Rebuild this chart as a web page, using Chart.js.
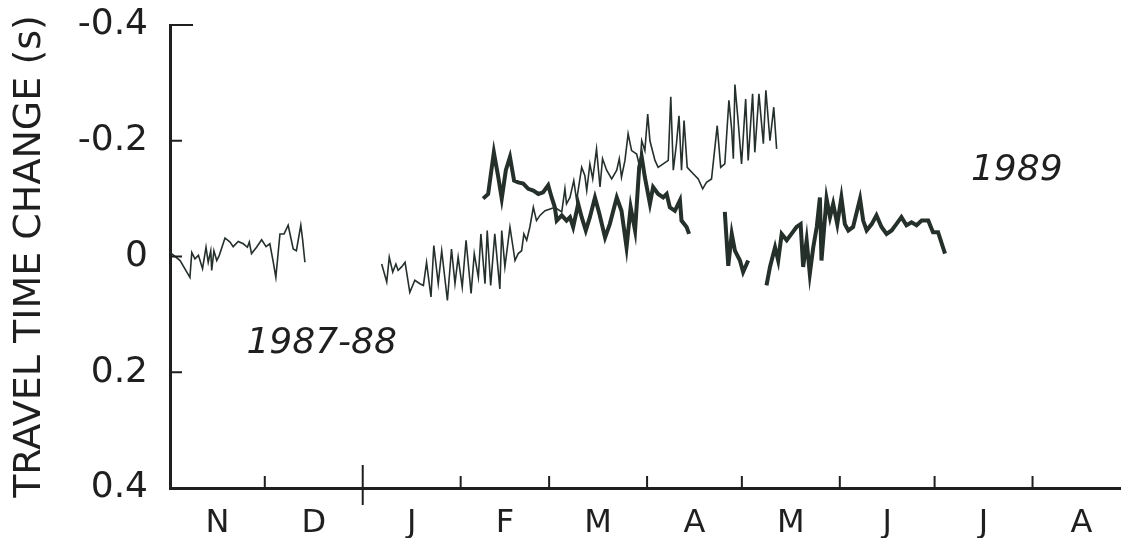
<!DOCTYPE html>
<html>
<head>
<meta charset="utf-8">
<title>Travel time change</title>
<script src="https://cdn.jsdelivr.net/npm/chart.js@4/dist/chart.umd.min.js"></script>
<style>
    html, body { margin: 0; padding: 0; background: #fff; }
    #wrap { width: 1121px; height: 538px; position: relative; }
</style>
</head>
<body>
<div id="wrap"><canvas id="ttChart"></canvas></div>
<script>
// x = days since 1 November, y = travel time change (s); null = gap in record
const days87 = [0, 3.2, 6.3, 6.9, 7.9, 9, 10.3, 11.4, 12.1, 12.9, 13.2, 13.9, 14.8, 15.6, 17.4, 19, 20,
    21.6, 23.2, 24.5, 25.1, 25.8, 27.4, 29, 30.4, 31.6, 32.7, 33.5, 34.8, 36.1, 37.4, 39, 40, 41.4, 42, 42.7,
    55,
    67, 68.6, 69.4, 70.5, 71.5, 72.2, 73.3, 74.4, 75.9, 77.5, 79.1, 80.2, 81.2, 82.6, 83.5, 84.9, 86, 87.8,
    89.1, 90.2, 91.2, 92.5, 93.7, 95.3, 96.3, 97.6, 98.4, 99.7, 100.4, 101.5, 102.8, 104.4, 105, 106, 107.6,
    109.2, 110.2, 111.3, 112, 112.9, 113.9, 115, 116, 117.1, 118.7, 120.3, 121.8, 124, 125, 125.5, 126.6,
    127.8, 128.7, 130.3, 131.3, 131.9, 132.9, 133.8, 135, 136.1, 136.9, 138.2, 139.8, 141.4, 142.2, 142.9,
    144, 145, 146.1, 147.7, 148.7, 149.3, 150.3, 151.2, 151.9, 153.5, 154.5, 156.1, 157.7, 158.5, 159.3,
    160.3, 161.1, 161.9, 162.7, 163.7, 165.6, 167.2, 168.6, 169.8, 171.4, 173.2, 174.3, 175.6, 176.9, 177.8,
    178.3, 178.8, 179.8, 180.9, 182.2, 183, 184.4, 185.1, 186.4, 187.8, 188.6, 189.9, 191.1, 192];
const tt87 = [-0.007, 0.007, 0.036, -0.007, 0.004, -0.002, 0.021, -0.016, 0.01, -0.01, 0.024, -0.01, 0.007,
    -0.002, -0.032, -0.025, -0.017, -0.026, -0.022, -0.016, -0.025, -0.005, -0.016, -0.029, -0.017, -0.022,
    0.01, 0.036, -0.039, -0.039, -0.054, -0.013, -0.01, -0.054, -0.028, 0.01,
    null,
    0.013, 0.044, 0.001, 0.027, 0.013, 0.024, 0.018, 0.01, 0.062, 0.041, 0.047, 0.05, 0.01, 0.07, -0.019,
    0.047, -0.01, 0.076, -0.013, 0.047, 0.001, 0.053, -0.028, 0.064, -0.005, 0.036, -0.039, 0.047, -0.045,
    0.05, -0.039, 0.056, -0.045, 0.018, -0.051, 0.007, -0.005, -0.01, -0.039, -0.028, -0.051, -0.085, -0.062,
    -0.071, -0.079, -0.082, -0.085, -0.077, -0.117, -0.091, -0.102, -0.131, -0.097, -0.154, -0.14, -0.114,
    -0.16, -0.134, -0.186, -0.12, -0.169, -0.149, -0.134, -0.149, -0.169, -0.137, -0.166, -0.212, -0.183,
    -0.177, -0.154, -0.2, -0.183, -0.246, -0.2, -0.166, -0.154, -0.16, -0.166, -0.276, -0.149, -0.195, -0.243,
    -0.149, -0.235, -0.154, -0.143, -0.134, -0.117, -0.128, -0.134, -0.226, -0.154, -0.16, -0.27, -0.218,
    -0.169, -0.297, -0.235, -0.16, -0.272, -0.166, -0.281, -0.18, -0.281, -0.195, -0.287, -0.2, -0.258, -0.186];

const days89 = [99.1, 100.7, 102.5, 103.9, 105, 106.3, 107.6, 108.9, 110.2, 111.8, 113.4, 115, 116.6, 118.1,
    119.7, 120.8, 121.8, 122.4, 124, 125.5, 126.6, 127.6, 129.2, 130.3, 131.6, 132.9, 134.5, 135.9, 137.7,
    139.2, 141.4, 142.9, 144.5, 145.8, 147.2, 148.5, 149.3, 150.3, 151.9, 152.9, 154.5, 156.1, 157.2, 158.2,
    159.8, 161.4, 161.9, 163.5, 164.3,
    170,
    175.6, 176.7, 177.8, 178.8, 180.4, 181.4, 183,
    186,
    188.8, 189.9, 191.5, 192.5, 193.6, 195.2, 196.7, 198.3, 199.6, 200.4, 201.5, 202.5, 203.6, 204.7, 205.7,
    206.2, 207.8, 208.9, 209.9, 211.2, 212.5, 213.6, 214.7, 216.2, 218.4, 219.4, 220.5, 222.1, 223.6, 225.2,
    226.8, 228.4, 229.9, 231.5, 233.1, 234.7, 236.3, 237.9, 240, 241.5, 243.1, 245.3];
const tt89 = [-0.1, -0.108, -0.18, -0.137, -0.1, -0.149, -0.172, -0.131, -0.128, -0.126, -0.117, -0.114,
    -0.108, -0.111, -0.123, -0.102, -0.085, -0.062, -0.071, -0.062, -0.068, -0.051, -0.091, -0.068, -0.045,
    -0.068, -0.102, -0.074, -0.033, -0.056, -0.102, -0.079, -0.016, -0.085, -0.045, -0.154, -0.172, -0.137,
    -0.091, -0.12, -0.108, -0.102, -0.108, -0.085, -0.079, -0.097, -0.062, -0.051, -0.039,
    null,
    -0.077, 0.016, -0.039, -0.01, 0.007, 0.027, 0.007,
    null,
    0.05, 0.018, -0.016, 0.007, -0.039, -0.028, -0.039, -0.051, -0.056, 0.018, -0.028, 0.03, -0.016, -0.051,
    -0.102, 0.007, -0.1, -0.068, -0.091, -0.056, -0.102, -0.056, -0.045, -0.051, -0.1, -0.062, -0.045, -0.056,
    -0.071, -0.051, -0.039, -0.045, -0.056, -0.068, -0.054, -0.059, -0.054, -0.062, -0.062, -0.042, -0.042,
    -0.005];

const monthLabels = ['N', 'D', 'J', 'F', 'M', 'A', 'M', 'J', 'J', 'A'];
const monthStarts = [0, 30, 61, 92, 120, 151, 181, 212, 242, 273, 304];
const yTicks = [-0.4, -0.2, 0, 0.2, 0.4];

const ink = '#1f1f1f';
const lineInk = '#25302b';
const face = '"DejaVu Sans", sans-serif';

const toPoints = (xs, ys) => xs.map((x, i) => ({ x: x, y: ys[i] }));
const labelDays = monthLabels.map((m, i) => (monthStarts[i] + monthStarts[i + 1]) / 2);

// short inward tick marks and the two year labels
const paperMarks = {
    id: 'paperMarks',
    afterDraw(chart) {
        const ctx = chart.ctx;
        const xs = chart.scales.x;
        const ys = chart.scales.y;
        const area = chart.chartArea;
        ctx.save();
        ctx.strokeStyle = ink;
        ctx.lineWidth = 2;
        ctx.beginPath();
        monthStarts.slice(1).forEach(d => {
            const px = xs.getPixelForValue(d);
            if (px > area.right) return;
            if (d === 61) {
                ctx.moveTo(px, area.bottom - 23);
                ctx.lineTo(px, area.bottom + 17);
            } else {
                ctx.moveTo(px, area.bottom);
                ctx.lineTo(px, area.bottom - 12);
            }
        });
        yTicks.slice(0, -1).forEach(v => {
            const py = ys.getPixelForValue(v);
            ctx.moveTo(area.left, py);
            ctx.lineTo(area.left + (v === -0.4 ? 23 : 12), py);
        });
        ctx.stroke();

        ctx.fillStyle = ink;
        ctx.textAlign = 'center';
        ctx.textBaseline = 'middle';
        ctx.font = 'italic 36px ' + face;
        ctx.fillText('1987-88', xs.getPixelForValue(48), ys.getPixelForValue(0.15));
        ctx.fillText('1989', xs.getPixelForValue(268), ys.getPixelForValue(-0.149));
        ctx.restore();
    }
};

const ctx = document.getElementById('ttChart').getContext('2d');
new Chart(ctx, {
    type: 'line',
    data: {
        datasets: [
            {
                label: '1987-88',
                data: toPoints(days87, tt87),
                borderColor: lineInk,
                borderWidth: 1.6,
                pointRadius: 0,
                tension: 0,
                spanGaps: false
            },
            {
                label: '1989',
                data: toPoints(days89, tt89),
                borderColor: lineInk,
                borderWidth: 4,
                pointRadius: 0,
                tension: 0,
                spanGaps: false
            }
        ]
    },
    options: {
        responsive: true,
        maintainAspectRatio: false,
        animation: false,
        layout: { padding: { top: 25, right: 0, bottom: 0, left: 0 } },
        plugins: {
            legend: { display: false },
            tooltip: { enabled: false }
        },
        scales: {
            x: {
                type: 'linear',
                min: 0,
                max: 301,
                afterBuildTicks: scale => {
                    scale.ticks = labelDays.map(v => ({ value: v }));
                },
                afterFit: scale => {
                    scale.height = 50;
                    scale.paddingLeft = 0;
                    scale.paddingRight = 0;
                },
                grid: { display: false, drawTicks: false },
                border: { display: true, color: ink, width: 3 },
                ticks: {
                    autoSkip: false,
                    maxRotation: 0,
                    padding: 16,
                    color: ink,
                    font: { family: 'DejaVu Sans', size: 32 },
                    callback: (value, index) => monthLabels[index]
                }
            },
            y: {
                type: 'linear',
                reverse: true,
                min: -0.4,
                max: 0.4,
                afterBuildTicks: scale => {
                    scale.ticks = yTicks.map(v => ({ value: v }));
                },
                afterFit: scale => {
                    scale.width = 170;
                    scale.paddingTop = 0;
                    scale.paddingBottom = 0;
                },
                grid: { display: false, drawTicks: false },
                border: { display: true, color: ink, width: 3 },
                ticks: {
                    padding: 22,
                    color: ink,
                    font: { family: 'DejaVu Sans', size: 36 },
                    callback: v => (Math.abs(v) < 1e-9 ? '0' : v.toFixed(1))
                },
                title: {
                    display: true,
                    text: 'TRAVEL TIME CHANGE (s)',
                    color: ink,
                    font: { family: 'DejaVu Sans', size: 38 },
                    padding: { top: 7, bottom: 0 }
                }
            }
        }
    },
    plugins: [paperMarks]
});
</script>
</body>
</html>
